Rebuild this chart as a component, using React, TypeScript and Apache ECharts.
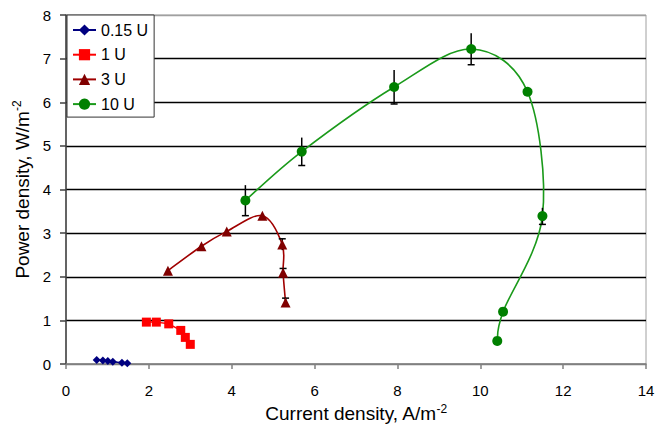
import React, { useEffect, useRef } from "react";
import * as echarts from "echarts";

const s015X = [0.74, 0.89, 1.01, 1.13, 1.35, 1.48];
const s015Y = [0.09, 0.08, 0.07, 0.05, 0.03, 0.02];
const s1X = [1.94, 2.18, 2.48, 2.77, 2.88, 3.0];
const s1Y = [0.96, 0.96, 0.92, 0.77, 0.61, 0.45];
const s3X = [2.46, 3.27, 3.88, 4.74, 5.22, 5.24, 5.3];
const s3Y = [2.14, 2.7, 3.04, 3.4, 2.74, 2.09, 1.41];
const s3Err = [0, 0, 0, 0, 0.13, 0.1, 0.1];
const s10X = [4.33, 5.69, 7.92, 9.78, 11.14, 11.5, 10.55, 10.41];
const s10Y = [3.75, 4.87, 6.35, 7.22, 6.24, 3.39, 1.2, 0.53];
const s10Err = [0.35, 0.32, 0.39, 0.36, 0, 0.19, 0, 0];
const seriesNames = ["0.15 U", "1 U", "3 U", "10 U"];

const FONT = "'Liberation Sans', Arial, sans-serif";

function pairs(xs: number[], ys: number[]) {
  return xs.map((x, i) => [x, ys[i]]);
}

function errData(xs: number[], ys: number[], es: number[], cap: number) {
  return xs
    .map((x, i) => [x, ys[i], es[i], cap])
    .filter((d) => d[2] > 0);
}

// Excel-like smoothed curve: cardinal spline segments (tension 1/6) between data points
function splineSeries(xs: number[], ys: number[], color: string) {
  const n = xs.length;
  return {
    type: "custom",
    silent: true,
    z: 2,
    data: xs.slice(0, n - 1).map((x, i) => [x, ys[i], i]),
    encode: { x: 0, y: 1 },
    renderItem: (params: any, api: any) => {
      const i = api.value(2);
      const P = (k: number) => {
        const j = Math.max(0, Math.min(n - 1, k));
        return api.coord([xs[j], ys[j]]);
      };
      const p0 = P(i - 1);
      const p1 = P(i);
      const p2 = P(i + 1);
      const p3 = P(i + 2);
      const c1 = [p1[0] + (p2[0] - p0[0]) / 6, p1[1] + (p2[1] - p0[1]) / 6];
      const c2 = [p2[0] - (p3[0] - p1[0]) / 6, p2[1] - (p3[1] - p1[1]) / 6];
      return {
        type: "bezierCurve",
        shape: { x1: p1[0], y1: p1[1], cpx1: c1[0], cpy1: c1[1], cpx2: c2[0], cpy2: c2[1], x2: p2[0], y2: p2[1] },
        style: { stroke: color, lineWidth: 1.6, fill: null },
      };
    },
  };
}

export default function App() {
  const ref = useRef<HTMLDivElement>(null);
  useEffect(() => {
    if (!ref.current) return;
    const chart = echarts.init(ref.current, undefined, { renderer: "svg" });
    const renderErr = (params: any, api: any) => {
      const x = api.value(0);
      const y = api.value(1);
      const e = api.value(2);
      const cap = api.value(3);
      const top = api.coord([x, y + e]);
      const bot = api.coord([x, y - e]);
      const style = { stroke: "#000", lineWidth: 1.5 };
      const hw = 3.5;
      const children: any[] = [
        { type: "line", shape: { x1: top[0], y1: top[1], x2: bot[0], y2: bot[1] }, style },
      ];
      if (cap === 1) {
        children.push({ type: "line", shape: { x1: top[0] - hw, y1: top[1], x2: top[0] + hw, y2: top[1] }, style });
      } else {
        children.push({ type: "line", shape: { x1: bot[0] - hw, y1: bot[1], x2: bot[0] + hw, y2: bot[1] }, style });
      }
      return { type: "group", children };
    };
    const gridColors = ["#808080", "#000", "#000", "#000", "#000", "#000", "#000", "#000", "#a0a0a0"];
    const nameRich = {
      a: { fontFamily: FONT, fontSize: 19, color: "#000" },
      s: { fontFamily: FONT, fontSize: 12, color: "#000", padding: [0, 0, 10, 0] },
    };
    chart.setOption({
      animation: false,
      backgroundColor: "#fff",
      textStyle: { fontFamily: FONT },
      grid: {
        left: 66,
        right: 20,
        top: 15,
        bottom: 69,
        show: true,
        borderColor: "#a0a0a0",
        borderWidth: 1,
        backgroundColor: "#fff",
      },
      legend: {
        orient: "vertical",
        left: 67,
        top: 15,
        data: seriesNames,
        padding: [7, 6, 5, 5],
        itemGap: 8.7,
        itemWidth: 23,
        itemHeight: 14,
        backgroundColor: "#fff",
        borderColor: "#333",
        borderWidth: 1,
        borderRadius: 0,
        lineStyle: { opacity: 1 },
        textStyle: { fontFamily: FONT, fontSize: 16, color: "#000", lineHeight: 14 },
      },
      xAxis: {
        type: "value",
        min: 0,
        max: 14,
        interval: 2,
        name: "{a|Current density, A/m}{s|-2}",
        nameLocation: "middle",
        nameGap: 37,
        nameTextStyle: { fontFamily: FONT, color: "#000", rich: nameRich },
        axisLine: { show: true, lineStyle: { color: "#808080", width: 1.5 } },
        axisTick: { show: true, inside: false, length: 5, lineStyle: { color: "#808080", width: 1.5 } },
        axisLabel: { fontFamily: FONT, fontSize: 15, color: "#000", margin: 19 },
        splitLine: { show: false },
      },
      yAxis: {
        type: "value",
        min: 0,
        max: 8,
        interval: 1,
        name: "{a|Power density, W/m}{s|-2}",
        nameLocation: "middle",
        nameRotate: 90,
        nameGap: 31,
        nameTextStyle: { fontFamily: FONT, color: "#000", rich: nameRich },
        axisLine: { show: true, lineStyle: { color: "#404040", width: 1.5 } },
        axisTick: { show: true, inside: false, length: 6, lineStyle: { color: "#404040", width: 1.5 } },
        axisLabel: { fontFamily: FONT, fontSize: 15, color: "#000", margin: 15 },
        splitLine: { show: true, lineStyle: { color: gridColors, width: 1.3 } },
      },
      series: [
        splineSeries(s3X, s3Y, "#a00000"),
        splineSeries(s10X, s10Y, "#1a9a1a"),
        {
          type: "custom",
          name: "err10",
          renderItem: renderErr,
          data: errData(s10X, s10Y, s10Err, 0),
          encode: { x: 0, y: 1 },
          z: 3,
          silent: true,
        },
        {
          type: "custom",
          name: "err3",
          renderItem: renderErr,
          data: errData(s3X, s3Y, s3Err, 1),
          encode: { x: 0, y: 1 },
          z: 3,
          silent: true,
        },
        {
          name: seriesNames[0],
          type: "line",
          data: pairs(s015X, s015Y),
          symbol: "diamond",
          symbolSize: 8,
          itemStyle: { color: "#000080" },
          lineStyle: { color: "#000080", width: 1.5 },
          z: 4,
        },
        {
          name: seriesNames[1],
          type: "line",
          data: pairs(s1X, s1Y),
          symbol: "rect",
          symbolSize: 9,
          itemStyle: { color: "#ff0000" },
          lineStyle: { color: "#ff0000", width: 1.5 },
          z: 4,
        },
        {
          name: seriesNames[2],
          type: "line",
          data: pairs(s3X, s3Y),
          symbol: "triangle",
          symbolSize: 10,
          itemStyle: { color: "#800000" },
          lineStyle: { color: "#a00000", width: 1.5, opacity: 0 },
          z: 4,
        },
        {
          name: seriesNames[3],
          type: "line",
          data: pairs(s10X, s10Y),
          symbol: "circle",
          symbolSize: 10,
          itemStyle: { color: "#008000" },
          lineStyle: { color: "#1a9a1a", width: 1.5, opacity: 0 },
          z: 4,
        },
      ],
    });
    return () => chart.dispose();
  }, []);
  return (
    <div
      ref={ref}
      style={{ position: "fixed", left: 0, top: 0, width: 666, height: 433, background: "#fff" }}
    />
  );
}
